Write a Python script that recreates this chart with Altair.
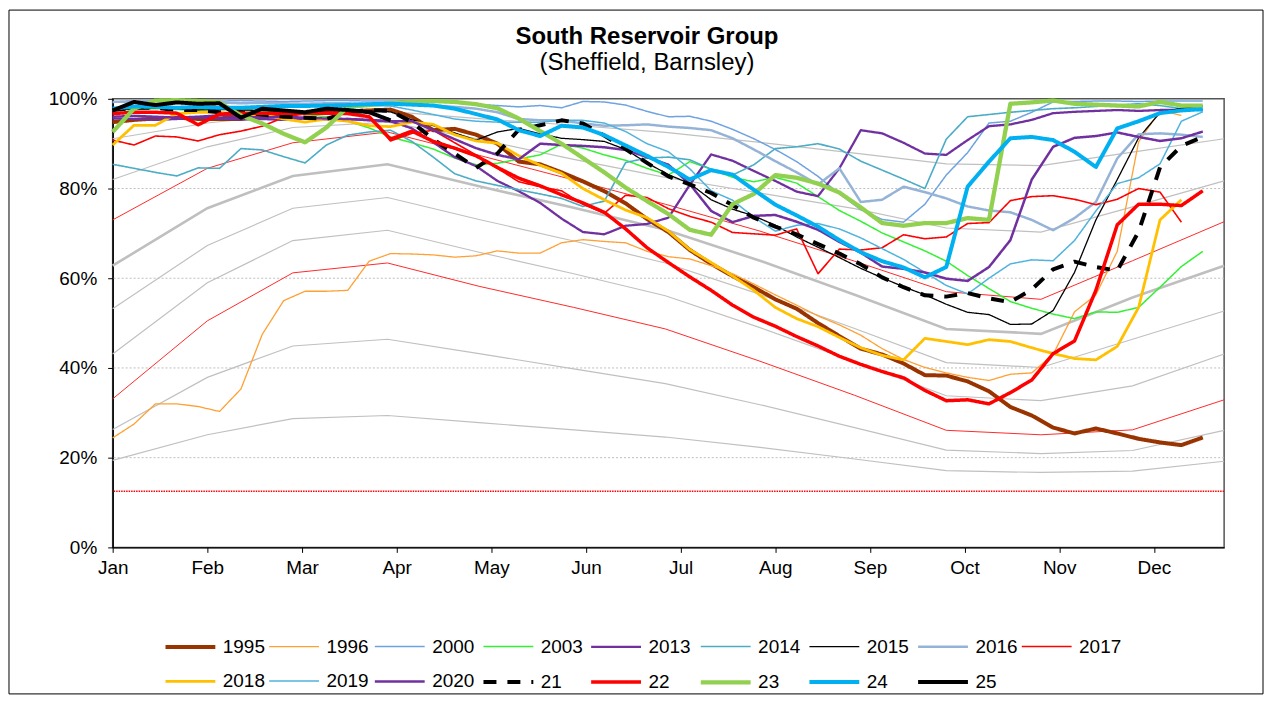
import altair as alt
import pandas as pd

FONT = "Liberation Sans"
TITLE = "South Reservoir Group"
SUBTITLE = "(Sheffield, Barnsley)"

MONTHS = ["Jan", "Feb", "Mar", "Apr", "May", "Jun", "Jul", "Aug", "Sep", "Oct", "Nov", "Dec"]
TICK_DAYS = [0, 31, 62, 93, 124, 155, 186, 217, 248, 279, 310, 341]
Y_TICKS = [0, 20, 40, 60, 80, 100]
GRID_PCT = [20, 40, 60, 80]
FLOOR_PCT = [12.5]

# weekly readings (day of year)
WEEK_DAYS = [7 * k for k in range(52)]
# control / reference curves are given on the 1st of each month
CURVE_DAYS = [0, 31, 59, 90, 120, 151, 181, 212, 243, 273, 304, 334, 364]

SERIES = ["1995", "1996", "2000", "2003", "2013", "2014", "2015", "2016", "2017",
          "2018", "2019", "2020", "21", "22", "23", "24", "25"]
COLORS = ["#993300", "#FFA033", "#6FA3E0", "#33F033", "#7030A0", "#4BACC6", "#000000",
          "#95B3D7", "#FF0000", "#FFC000", "#4FB3DD", "#7030A0", "#000000", "#FF0000",
          "#92D050", "#00B0F0", "#000000"]
WIDTHS = [4, 1.3, 1.5, 1.5, 2.3, 1.6, 1.3, 2.5, 1.6, 2.8, 1.5, 2.5, 4, 3.5, 4.3, 4, 4]
DASHES = [[1, 0]] * 12 + [[13, 11]] + [[1, 0]] * 4

N = None
Y1995 = [94.8, 95.3, 95.6, 95.8, 95.5, 95.5, 95.5, 96.2, 96.5, 96.8, 97.0, 97.2, 97.4, 97.6, 96.0, 93.0, 93.3, 92.0, 90.0, 86.0,
         85.4, 83.6, 81.6, 79.4, 76.7, 73.2, 70.3, 66.3, 63.2, 60.5, 58.0, 55.3, 53.2, 50.0, 47.1, 44.3, 43.0, 41.0, 38.4, 38.3,
         37.0, 34.8, 31.3, 29.4, 26.7, 25.4, 26.5, 25.4, 24.2, 23.4, 22.8, 24.5]
Y1996 = [24.4, 27.5, 32.0, 32.0, 31.4, 30.3, 35.3, 47.5, 55.0, 57.1, 57.1, 57.3, 63.8, 65.5, 65.4, 65.2, 64.7, 65.0, 66.1, 65.6,
         65.6, 67.9, 68.6, 68.2, 67.9, 66.0, 64.8, 64.3, 62.8, 61.0, 58.7, 56.3, 54.0, 51.6, 49.6, 47.3, 44.3, 41.9, 40.1, 38.9,
         37.9, 37.2, 38.6, 38.9, 43.0, 52.5, 56.3, 66.0, 90.4, 97.4, 96.3, N]
Y2000 = [99.2, 99.4, 99.5, 99.5, 99.4, 99.5, 99.6, 99.5, 99.4, 99.5, 99.6, 99.6, 99.5, 99.5, 99.6, 99.5, 99.2, 98.8, 98.5, 98.2,
         98.5, 98.0, 99.4, 99.3, 98.6, 97.2, 96.0, 96.1, 95.0, 93.2, 91.1, 88.7, 86.0, 82.7, 78.8, 75.3, 73.1, 72.5, 76.5, 83.0,
         88.0, 94.6, 95.0, 97.0, 99.3, 99.4, 99.5, 99.5, 99.4, 99.5, 99.5, 99.5]
Y2003 = [97.5, 97.6, 97.8, 97.6, 97.5, 97.8, 97.6, 97.3, 97.0, 96.5, 96.0, 95.0, 93.5, 91.5, 90.2, 88.8, 86.8, 85.3, 85.6, 86.6,
         87.5, 89.9, 89.0, 87.5, 86.3, 84.5, 83.0, 86.0, 84.3, 82.5, 81.5, 82.5, 81.2, 78.2, 75.1, 72.7, 70.1, 68.1, 66.1, 63.8,
         60.6, 57.7, 54.8, 53.3, 52.0, 51.0, 52.5, 52.4, 53.5, 58.0, 62.6, 66.0]
Y2013 = [95.6, 95.5, 95.3, 95.5, 95.8, 95.6, 95.4, 95.5, 95.3, 95.6, 95.4, 95.5, 95.2, 95.0, 93.4, 90.3, 87.0, 85.0, 81.7, 79.4,
         76.8, 73.3, 70.3, 69.8, 71.7, 72.1, 73.5, 80.8, 87.6, 86.2, 83.9, 81.7, 79.3, 78.3, 84.5, 93.0, 92.3, 90.2, 87.8, 87.5,
         90.8, 93.9, 94.3, 95.3, 96.8, 97.1, 97.3, 97.5, 97.3, 97.5, 97.5, 97.6]
Y2014 = [85.4, 84.5, 83.6, 82.8, 84.6, 84.5, 88.9, 88.6, 87.1, 85.7, 89.7, 91.9, 92.6, 93.0, 90.5, 87.0, 83.3, 81.7, 80.7, 79.7,
         78.8, 77.8, 76.0, 77.2, 85.8, 86.8, 87.0, 86.4, 84.3, 83.0, 85.3, 88.9, 89.3, 90.0, 88.8, 86.1, 84.1, 82.1, 80.0, 91.0,
         96.0, 96.5, 97.0, 97.4, 97.8, 98.0, 98.3, 98.6, 98.9, 98.5, 97.8, 97.3]
Y2015 = [97.5, 97.8, 98.0, 97.8, 97.5, 97.6, 97.5, 97.4, 97.2, 97.0, 97.2, 97.4, 97.3, 97.1, 95.3, 94.0, 92.4, 90.8, 92.6, 93.4,
         92.2, 91.2, 90.9, 90.5, 88.7, 85.7, 83.1, 81.1, 77.5, 75.4, 73.9, 71.8, 69.2, 66.9, 64.6, 62.2, 60.1, 58.1, 56.3, 54.2,
         52.4, 51.9, 49.7, 49.8, 52.8, 61.3, 73.0, 82.0, 91.3, 96.9, 97.9, 98.4]
Y2016 = [99.3, 99.5, 99.6, 99.5, 99.4, 99.2, 99.0, 99.1, 99.0, 98.9, 99.0, 99.0, 98.9, 99.0, 98.8, 98.5, 98.2, 97.8, 97.0, 95.5,
         95.2, 95.2, 94.5, 94.0, 94.1, 94.3, 93.8, 93.5, 93.0, 91.2, 88.7, 86.1, 83.6, 80.9, 84.5, 77.0, 77.5, 80.4, 79.2, 77.8,
         76.0, 75.1, 74.7, 73.0, 70.7, 73.4, 77.0, 86.7, 92.1, 92.3, 92.0, 91.5]
Y2017 = [90.8, 89.7, 91.7, 91.5, 90.6, 92.0, 92.8, 93.9, 95.8, 96.8, 97.0, 97.2, 96.0, 90.6, 92.3, 93.0, 90.2, 87.5, 84.5, 81.5,
         80.4, 79.5, 76.5, 74.5, 78.5, 78.0, 75.5, 73.8, 72.5, 70.2, 69.9, 69.6, 71.0, 61.0, 66.5, 66.3, 66.8, 69.7, 68.8, 69.2,
         72.2, 72.4, 77.3, 78.2, 78.4, 77.6, 76.4, 77.6, 80.0, 79.2, 72.5, N]
Y2018 = [89.7, 94.1, 94.1, 96.7, 97.0, 97.0, 96.5, 96.5, 95.5, 94.8, 95.5, 95.0, 94.0, 93.8, 94.8, 94.3, 92.0, 90.6, 90.1, 87.3,
         85.2, 83.4, 80.0, 77.5, 75.2, 73.5, 70.5, 66.4, 63.5, 60.5, 57.3, 53.5, 51.0, 49.2, 46.8, 44.5, 42.8, 41.8, 46.6, 45.9,
         45.2, 46.3, 45.9, 44.5, 43.2, 42.1, 41.8, 44.8, 53.5, 73.0, 77.5, N]
Y2019 = [97.8, 98.0, 98.2, 98.0, 98.3, 98.2, 98.0, 98.2, 98.3, 98.4, 98.2, 98.3, 98.5, 98.4, 97.5, 96.5, 95.5, 95.0, 94.8, 94.8,
         94.8, 95.2, 95.2, 94.6, 92.7, 90.0, 88.2, 84.4, 79.5, 77.4, 73.6, 70.5, 71.8, 72.2, 71.0, 69.0, 66.6, 64.2, 61.3, 58.4,
         56.5, 60.0, 63.2, 64.1, 63.9, 68.4, 75.0, 81.1, 82.4, 85.5, 95.0, 97.1]
Y2020 = [96.0, 96.2, 96.0, 95.8, 96.0, 96.3, 96.0, 95.8, 96.0, 95.8, 95.6, 95.5, 95.3, 95.0, 95.0, 93.0, 91.0, 89.0, 87.5, 86.5,
         90.0, 89.7, 89.5, 89.2, 88.6, 87.0, 85.3, 81.0, 75.0, 72.5, 73.9, 74.1, 72.6, 70.8, 68.1, 65.7, 62.6, 62.1, 61.3, 59.9,
         59.4, 62.5, 68.5, 82.0, 89.3, 91.3, 91.7, 92.5, 91.5, 90.6, 91.2, 92.7]
Y21 = [97.5, 98.0, 98.0, 97.5, 97.5, 97.0, 97.0, 96.5, 96.0, 95.8, 95.5, 97.0, 97.5, 97.3, 94.8, 91.0, 87.8, 84.6, 87.8, 93.1,
       94.1, 95.2, 94.5, 91.8, 88.8, 85.7, 82.7, 80.9, 79.0, 76.3, 73.5, 71.5, 69.8, 67.6, 65.5, 63.1, 60.2, 58.0, 56.2, 55.9,
       56.7, 55.5, 54.7, 57.5, 62.0, 63.7, 62.5, 61.7, 70.4, 84.7, 89.5, 91.5]
Y22 = [96.7, 97.0, 97.0, 96.8, 94.2, 96.6, 96.8, 96.8, 96.8, 96.8, 96.8, 96.7, 96.0, 91.0, 92.8, 90.5, 89.0, 87.3, 84.7, 82.3,
       80.6, 78.6, 76.8, 74.7, 71.0, 66.8, 63.5, 60.3, 57.3, 54.0, 51.3, 49.3, 47.0, 44.9, 42.6, 40.8, 39.2, 37.8, 35.0, 32.7,
       32.9, 32.0, 34.5, 37.3, 43.2, 46.0, 57.3, 71.9, 76.5, 76.5, 76.2, 79.5]
Y23 = [92.6, 97.8, 99.6, 99.7, 99.5, 99.2, 96.3, 94.5, 92.2, 90.3, 93.6, 98.2, 98.6, 99.0, 99.3, 99.5, 99.3, 98.8, 97.9, 95.6,
       92.8, 90.0, 86.8, 83.6, 80.2, 77.2, 74.3, 70.8, 69.7, 76.5, 78.8, 83.0, 82.4, 81.1, 79.1, 75.8, 72.3, 71.7, 72.3, 72.3,
       73.4, 73.0, 98.9, 99.2, 99.6, 98.9, 98.7, 98.5, 98.3, 99.3, 98.5, 98.5]
Y24 = [97.8, 98.3, 98.2, 98.0, 98.2, 98.0, 98.0, 98.2, 98.4, 98.4, 98.5, 98.6, 98.8, 98.9, 98.7, 98.5, 97.8, 96.6, 95.4, 93.0,
       91.7, 94.0, 93.6, 91.9, 89.6, 87.3, 84.8, 82.0, 84.1, 83.1, 79.7, 76.4, 74.0, 71.5, 68.5, 65.8, 63.8, 62.4, 60.2, 62.5,
       80.4, 86.0, 91.2, 91.5, 90.8, 88.2, 84.8, 93.4, 95.0, 96.8, 97.4, 97.7]
Y25 = [97.4, 99.3, 98.6, 99.2, 98.9, 99.0, 95.8, 97.8, 97.4, 97.0, 97.8, 97.5, 97.0, 95.2] + [N] * 38

SERIES_VALUES = [Y1995, Y1996, Y2000, Y2003, Y2013, Y2014, Y2015, Y2016, Y2017,
                 Y2018, Y2019, Y2020, Y21, Y22, Y23, Y24, Y25]

# reference curves (monthly)
GRAY_91 = [91.1, 94.6, 96.6, 97.2, 95.6, 94.1, 92.5, 90.3, 87.9, 85.5, 85.1, 88.1, 91.1]
GRAY_82 = [82.0, 89.3, 93.6, 94.8, 91.0, 86.5, 82.5, 79.0, 75.5, 71.2, 70.3, 75.9, 81.7]
GRAY_53 = [53.2, 67.3, 75.6, 78.0, 73.1, 68.3, 63.4, 56.4, 48.8, 41.2, 40.1, 46.4, 52.7]
GRAY_43 = [43.1, 59.0, 68.4, 70.7, 65.8, 61.0, 56.1, 49.0, 41.4, 33.8, 32.7, 36.0, 43.1]
GRAY_26 = [26.3, 37.9, 44.9, 46.4, 43.2, 39.8, 36.5, 31.8, 26.7, 21.7, 20.9, 21.6, 26.1]
GRAY_19 = [19.4, 25.1, 28.7, 29.4, 27.8, 26.2, 24.6, 22.3, 19.7, 17.1, 16.7, 17.0, 19.2]
GRAY_AVG = [62.8, 75.6, 82.8, 85.4, 80.5, 75.7, 70.8, 63.9, 56.3, 48.7, 47.6, 55.7, 62.8]
RED_73 = [73.0, 84.5, 90.2, 92.6, 87.4, 81.9, 76.5, 70.5, 63.8, 57.0, 55.3, 63.9, 72.6]
RED_33 = [33.1, 50.5, 61.2, 63.4, 58.2, 53.5, 48.7, 41.5, 33.9, 26.1, 25.1, 26.2, 32.9]


def curve_frame(named):
    rows = []
    for name, vals in named:
        for d, v in zip(CURVE_DAYS, vals):
            rows.append({"curve": name, "day": d, "pct": v})
    return pd.DataFrame(rows)


thin_df = curve_frame([("g91", GRAY_91), ("g82", GRAY_82), ("g53", GRAY_53),
                       ("g43", GRAY_43), ("g26", GRAY_26), ("g19", GRAY_19)])
avg_df = curve_frame([("avg", GRAY_AVG)])
red_df = curve_frame([("r73", RED_73), ("r33", RED_33)])

rows = []
for name, vals in zip(SERIES, SERIES_VALUES):
    for d, v in zip(WEEK_DAYS, vals):
        if v is not None:
            rows.append({"series": name, "day": d, "pct": v})
series_df = pd.DataFrame(rows)

grid_df = pd.DataFrame({"pct": GRID_PCT})
floor_df = pd.DataFrame({"pct": FLOOR_PCT})

xs = alt.Scale(domain=[0, 364], nice=False, zero=False)
ys = alt.Scale(domain=[0, 100], nice=False)
label_expr = "[" + ",".join("'%s'" % m for m in MONTHS) + "][round(datum.value / 31)]"
x_axis = alt.Axis(values=TICK_DAYS, labelExpr=label_expr, title=None, grid=False,
                  tickSize=5, labelPadding=6, labelFlush=False, labelOverlap=False)
y_axis = alt.Axis(values=Y_TICKS, labelExpr="datum.value + '%'", title=None, grid=False,
                  tickSize=5, labelPadding=11)
X = alt.X("day:Q", scale=xs, axis=x_axis)
Y = alt.Y("pct:Q", scale=ys, axis=y_axis)

grid = alt.Chart(grid_df).mark_rule(color="#BFBFBF", strokeDash=[2, 2], strokeWidth=1).encode(y=Y)
floor = alt.Chart(floor_df).mark_rule(color="#FF0000", strokeDash=[1.5, 1], strokeWidth=1.5).encode(y=Y)
thin = alt.Chart(thin_df).mark_line(color="#C0C0C0", strokeWidth=1.2).encode(x=X, y=Y, detail="curve:N")
avg = alt.Chart(avg_df).mark_line(color="#BFBFBF", strokeWidth=2.6).encode(x=X, y=Y, detail="curve:N")
red = alt.Chart(red_df).mark_line(color="#FF2A2A", strokeWidth=1).encode(x=X, y=Y, detail="curve:N")

# long horizontal legend stroke: path spans -r..4r with r = sqrt(symbolSize)/2
legend = alt.Legend(title=None, orient="none", legendX=50.5, legendY=538, direction="horizontal",
                    columns=9, symbolType="M-1,0H4", symbolSize=400, labelFontSize=19,
                    labelFont=FONT, labelColor="#000000", labelOffset=35, columnPadding=0,
                    rowPadding=13, labelLimit=0)

lines = alt.Chart(series_df).mark_line(strokeJoin="round").encode(
    x=X, y=Y,
    color=alt.Color("series:N", scale=alt.Scale(domain=SERIES, range=COLORS), legend=legend),
    strokeWidth=alt.StrokeWidth("series:N", scale=alt.Scale(type="ordinal", domain=SERIES, range=WIDTHS), legend=legend),
    strokeDash=alt.StrokeDash("series:N", scale=alt.Scale(domain=SERIES, range=DASHES), legend=legend),
)

title = alt.Chart(pd.DataFrame({"t": [TITLE]})).mark_text(
    font=FONT, fontSize=24, fontWeight="bold", align="center", baseline="alphabetic", color="#000000"
).encode(text="t:N", x=alt.value(536), y=alt.value(-55))
subtitle = alt.Chart(pd.DataFrame({"t": [SUBTITLE]})).mark_text(
    font=FONT, fontSize=24, align="center", baseline="alphabetic", color="#000000"
).encode(text="t:N", x=alt.value(536), y=alt.value(-29))
frame = alt.Chart(pd.DataFrame({"k": [0]})).mark_rect(
    fillOpacity=0, stroke="#000000", strokeWidth=1
).encode(x=alt.value(-104), x2=alt.value(1154), y=alt.value(-89), y2=alt.value(597))

chart = alt.layer(grid, thin, avg, red, floor, lines, title, subtitle, frame).properties(
    width=1115, height=450, padding={"left": 0, "top": 0, "right": 0, "bottom": 0}
).configure_view(
    stroke="#555555", strokeWidth=1.5
).configure_axis(
    labelFont=FONT, labelFontSize=19, labelColor="#000000",
    domainColor="#000000", domainWidth=1.5, tickColor="#000000", tickWidth=1
)

chart.save("out.html", embed_options={"renderer": "svg", "actions": False})
